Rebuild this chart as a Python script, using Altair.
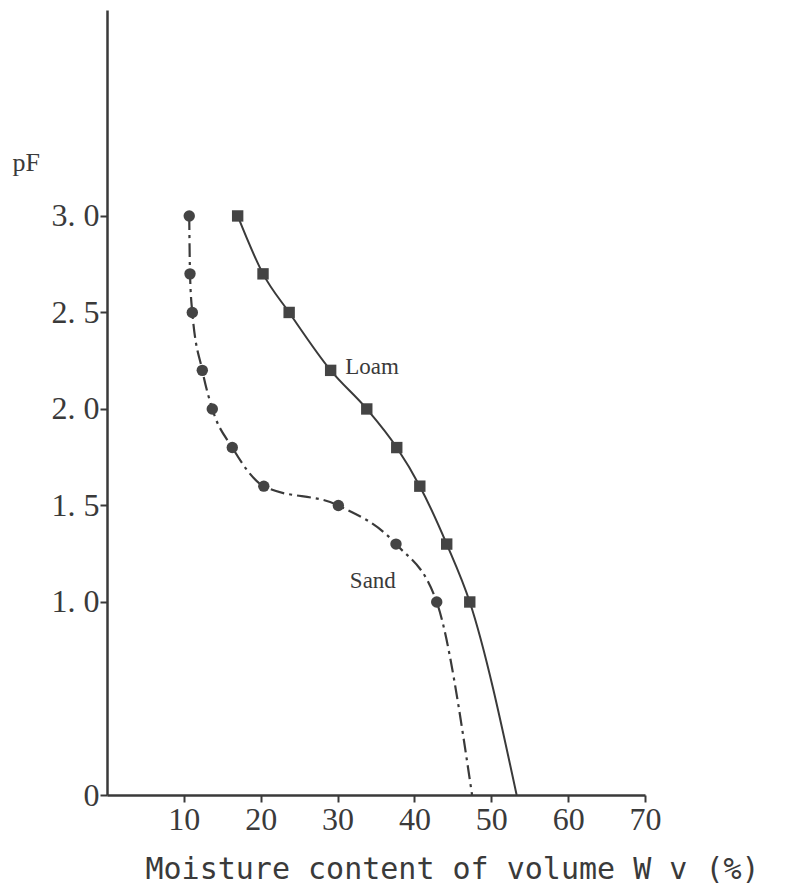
import altair as alt
import pandas as pd

# Loam (squares)
loam_x = [17.0, 20.3, 23.7, 29.1, 33.8, 37.7, 40.7, 44.2, 47.2]
loam_pf = [3.0, 2.7, 2.5, 2.2, 2.0, 1.8, 1.6, 1.3, 1.0]
loam_end_x = 53.3
# Sand (circles)
sand_x = [10.7, 10.8, 11.1, 12.4, 13.7, 16.3, 20.4, 30.1, 37.6, 42.9]
sand_pf = [3.0, 2.7, 2.5, 2.2, 2.0, 1.8, 1.6, 1.5, 1.3, 1.0]
sand_end_x = 47.5

x_ticks = [10, 20, 30, 40, 50, 60, 70]
y_ticks = [0, 1.0, 1.5, 2.0, 2.5, 3.0]

labels_text = ["Loam", "Sand"]
labels_x = [31.0, 31.6]
labels_y = [2.22, 1.11]

def line_df(xs, ps, endx, name):
    rows = [{"x": a, "pf": b, "i": k, "soil": name} for k, (a, b) in enumerate(zip(xs, ps))]
    rows.append({"x": endx, "pf": 0.0, "i": len(xs), "soil": name})
    return pd.DataFrame(rows)

loam_line = line_df(loam_x, loam_pf, loam_end_x, "Loam")
sand_line = line_df(sand_x, sand_pf, sand_end_x, "Sand")
loam_pts = pd.DataFrame({"x": loam_x, "pf": loam_pf})
sand_pts = pd.DataFrame({"x": sand_x, "pf": sand_pf})
lab_df = pd.DataFrame({"t": labels_text, "x": labels_x, "pf": labels_y})

INK = "#3a3a3a"
SERIF = "Liberation Serif"

xscale = alt.Scale(domain=[0, 70], nice=False, zero=True)
yscale = alt.Scale(domain=[0, 4.067], nice=False, zero=True)

xaxis = alt.Axis(
    values=x_ticks, title="Moisture content of volume W v (%)",
    titleFont="DejaVu Sans Mono", titleFontSize=30, titleFontWeight="normal",
    titleColor=INK, titleAnchor="start", titleAlign="left",
    titleX=38, titleY=83, titleBaseline="alphabetic",
    labelFont=SERIF, labelFontSize=32, labelColor=INK, labelPadding=2,
    tickSize=7, tickColor=INK, tickWidth=2,
    domainColor=INK, domainWidth=2.5, grid=False, labelFlush=False,
)
yaxis = alt.Axis(
    values=y_ticks, title="pF",
    labelExpr="datum.value == 0 ? '0' : replace(format(datum.value, '.1f'), '.', '. ')",
    titleFont=SERIF, titleFontSize=26, titleFontWeight="normal", titleColor=INK,
    titleAngle=0, titleX=-95, titleY=160, titleAlign="left", titleBaseline="alphabetic",
    labelFont=SERIF, labelFontSize=32, labelColor=INK, labelPadding=1,
    tickSize=7, tickColor=INK, tickWidth=2,
    domainColor=INK, domainWidth=2.5, grid=False, labelFlush=False,
)

base_x = alt.X("x:Q", scale=xscale, axis=xaxis)
base_y = alt.Y("pf:Q", scale=yscale, axis=yaxis)

loam_l = alt.Chart(loam_line).mark_line(
    interpolate="monotone", color=INK, strokeWidth=2
).encode(x=base_x, y=base_y, order="i:Q")

sand_l = alt.Chart(sand_line).mark_line(
    interpolate="monotone", color=INK, strokeWidth=2.2, strokeDash=[14, 5, 3, 5]
).encode(x=alt.X("x:Q", scale=xscale), y=alt.Y("pf:Q", scale=yscale), order="i:Q")

loam_p = alt.Chart(loam_pts).mark_point(
    shape="square", filled=True, color="#444444", size=130, opacity=1
).encode(x=alt.X("x:Q", scale=xscale), y=alt.Y("pf:Q", scale=yscale))

sand_p = alt.Chart(sand_pts).mark_point(
    shape="circle", filled=True, color="#444444", size=130, opacity=1
).encode(x=alt.X("x:Q", scale=xscale), y=alt.Y("pf:Q", scale=yscale))

labels = alt.Chart(lab_df).mark_text(
    align="left", baseline="middle", font=SERIF, fontSize=23, color=INK
).encode(x=alt.X("x:Q", scale=xscale), y=alt.Y("pf:Q", scale=yscale), text="t:N")

chart = alt.layer(loam_l, sand_l, loam_p, sand_p, labels).properties(
    width=538, height=785,
    padding={"left": 107, "top": 10, "right": 149, "bottom": 90},
    autosize="none",
    background="white",
).configure_view(stroke=None)

chart.save("out.html", embed_options={"renderer": "svg", "actions": False})
